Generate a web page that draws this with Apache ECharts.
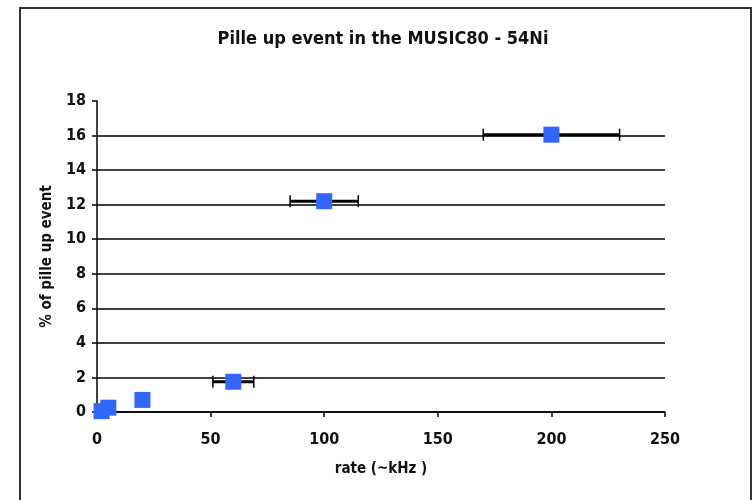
<!DOCTYPE html>
<html><head><meta charset="utf-8">
<script src="https://cdn.jsdelivr.net/npm/echarts@6/dist/echarts.min.js"></script>
<style>html,body{margin:0;padding:0;background:#fff}#c{width:753px;height:500px}</style>
</head><body><div id="c"></div>
<script>
const titleText = 'Pille up event in the MUSIC80 - 54Ni';
const xName = 'rate (~kHz )';
const yName = '% of pille up event';
const rateValues = [2, 5, 20, 60, 100, 200];
const pileupValues = [0.05, 0.25, 0.7, 1.75, 12.2, 16.05];
const rateErrors = [0, 0, 0, 9, 15, 30];

const FONT = '"DejaVu Sans Condensed", "Liberation Sans Narrow", "Liberation Sans", Arial, sans-serif';
const points = rateValues.map((x, i) => [x, pileupValues[i]]);
const errData = rateValues.map((x, i) => [x - rateErrors[i], x + rateErrors[i], pileupValues[i]]).filter((d, i) => rateErrors[i] > 0);

const chart = echarts.init(document.getElementById('c'), null, {renderer: 'canvas'});
chart.setOption({
  animation: false,
  backgroundColor: '#fff',
  graphic: [{
    type: 'polyline', silent: true,
    shape: {points: [[20, 500], [20, 8], [751, 8], [751, 500]]},
    style: {stroke: '#333', lineWidth: 2, fill: null}
  }],
  title: {
    text: titleText, left: 378, top: 25, textAlign: 'center',
    textStyle: {fontFamily: FONT, fontSize: 18, fontWeight: 'bold', color: '#111'}
  },
  grid: {left: 97, right: 88, top: 101, bottom: 88},
  xAxis: {
    type: 'value', min: 0, max: 250, interval: 50,
    name: xName, nameLocation: 'middle', nameGap: 50,
    nameTextStyle: {fontFamily: FONT, fontSize: 15, fontWeight: 'bold', color: '#111'},
    axisLine: {show: true, onZero: false, lineStyle: {color: '#000', width: 1.5}},
    axisTick: {show: true, inside: false, length: 5, lineStyle: {color: '#000', width: 1.5}},
    axisLabel: {fontFamily: FONT, fontSize: 16, fontWeight: 'bold', color: '#111', margin: 20},
    splitLine: {show: false}
  },
  yAxis: {
    type: 'value', min: 0, max: 18, interval: 2,
    name: yName, nameLocation: 'middle', nameGap: 42, nameRotate: 90,
    nameTextStyle: {fontFamily: FONT, fontSize: 15, fontWeight: 'bold', color: '#111'},
    axisLine: {show: true, lineStyle: {color: '#000', width: 1.5}},
    axisTick: {show: true, inside: false, length: 5, lineStyle: {color: '#000', width: 1.5}},
    axisLabel: {fontFamily: FONT, fontSize: 16, fontWeight: 'bold', color: '#111', margin: 11},
    splitLine: {show: true, lineStyle: {color: ['#000','#000','#000','#000','#000','#000','#000','#000','#000','rgba(0,0,0,0)'], width: 1.5}}
  },
  series: [
    {
      type: 'custom', z: 2,
      data: errData,
      renderItem: function (params, api) {
        const a = api.coord([api.value(0), api.value(2)]);
        const b = api.coord([api.value(1), api.value(2)]);
        const h = 6;
        return {type: 'group', children: [
          {type: 'line', shape: {x1: a[0], y1: a[1], x2: b[0], y2: b[1]}, style: {stroke: '#000', lineWidth: 3}},
          {type: 'line', shape: {x1: a[0], y1: a[1] - h, x2: a[0], y2: a[1] + h}, style: {stroke: '#000', lineWidth: 1.5}},
          {type: 'line', shape: {x1: b[0], y1: b[1] - h, x2: b[0], y2: b[1] + h}, style: {stroke: '#000', lineWidth: 1.5}}
        ]};
      }
    },
    {
      type: 'scatter', z: 3,
      symbol: 'rect', symbolSize: 16,
      itemStyle: {color: '#3366ff', opacity: 1},
      data: points
    }
  ]
});
</script></body></html>
